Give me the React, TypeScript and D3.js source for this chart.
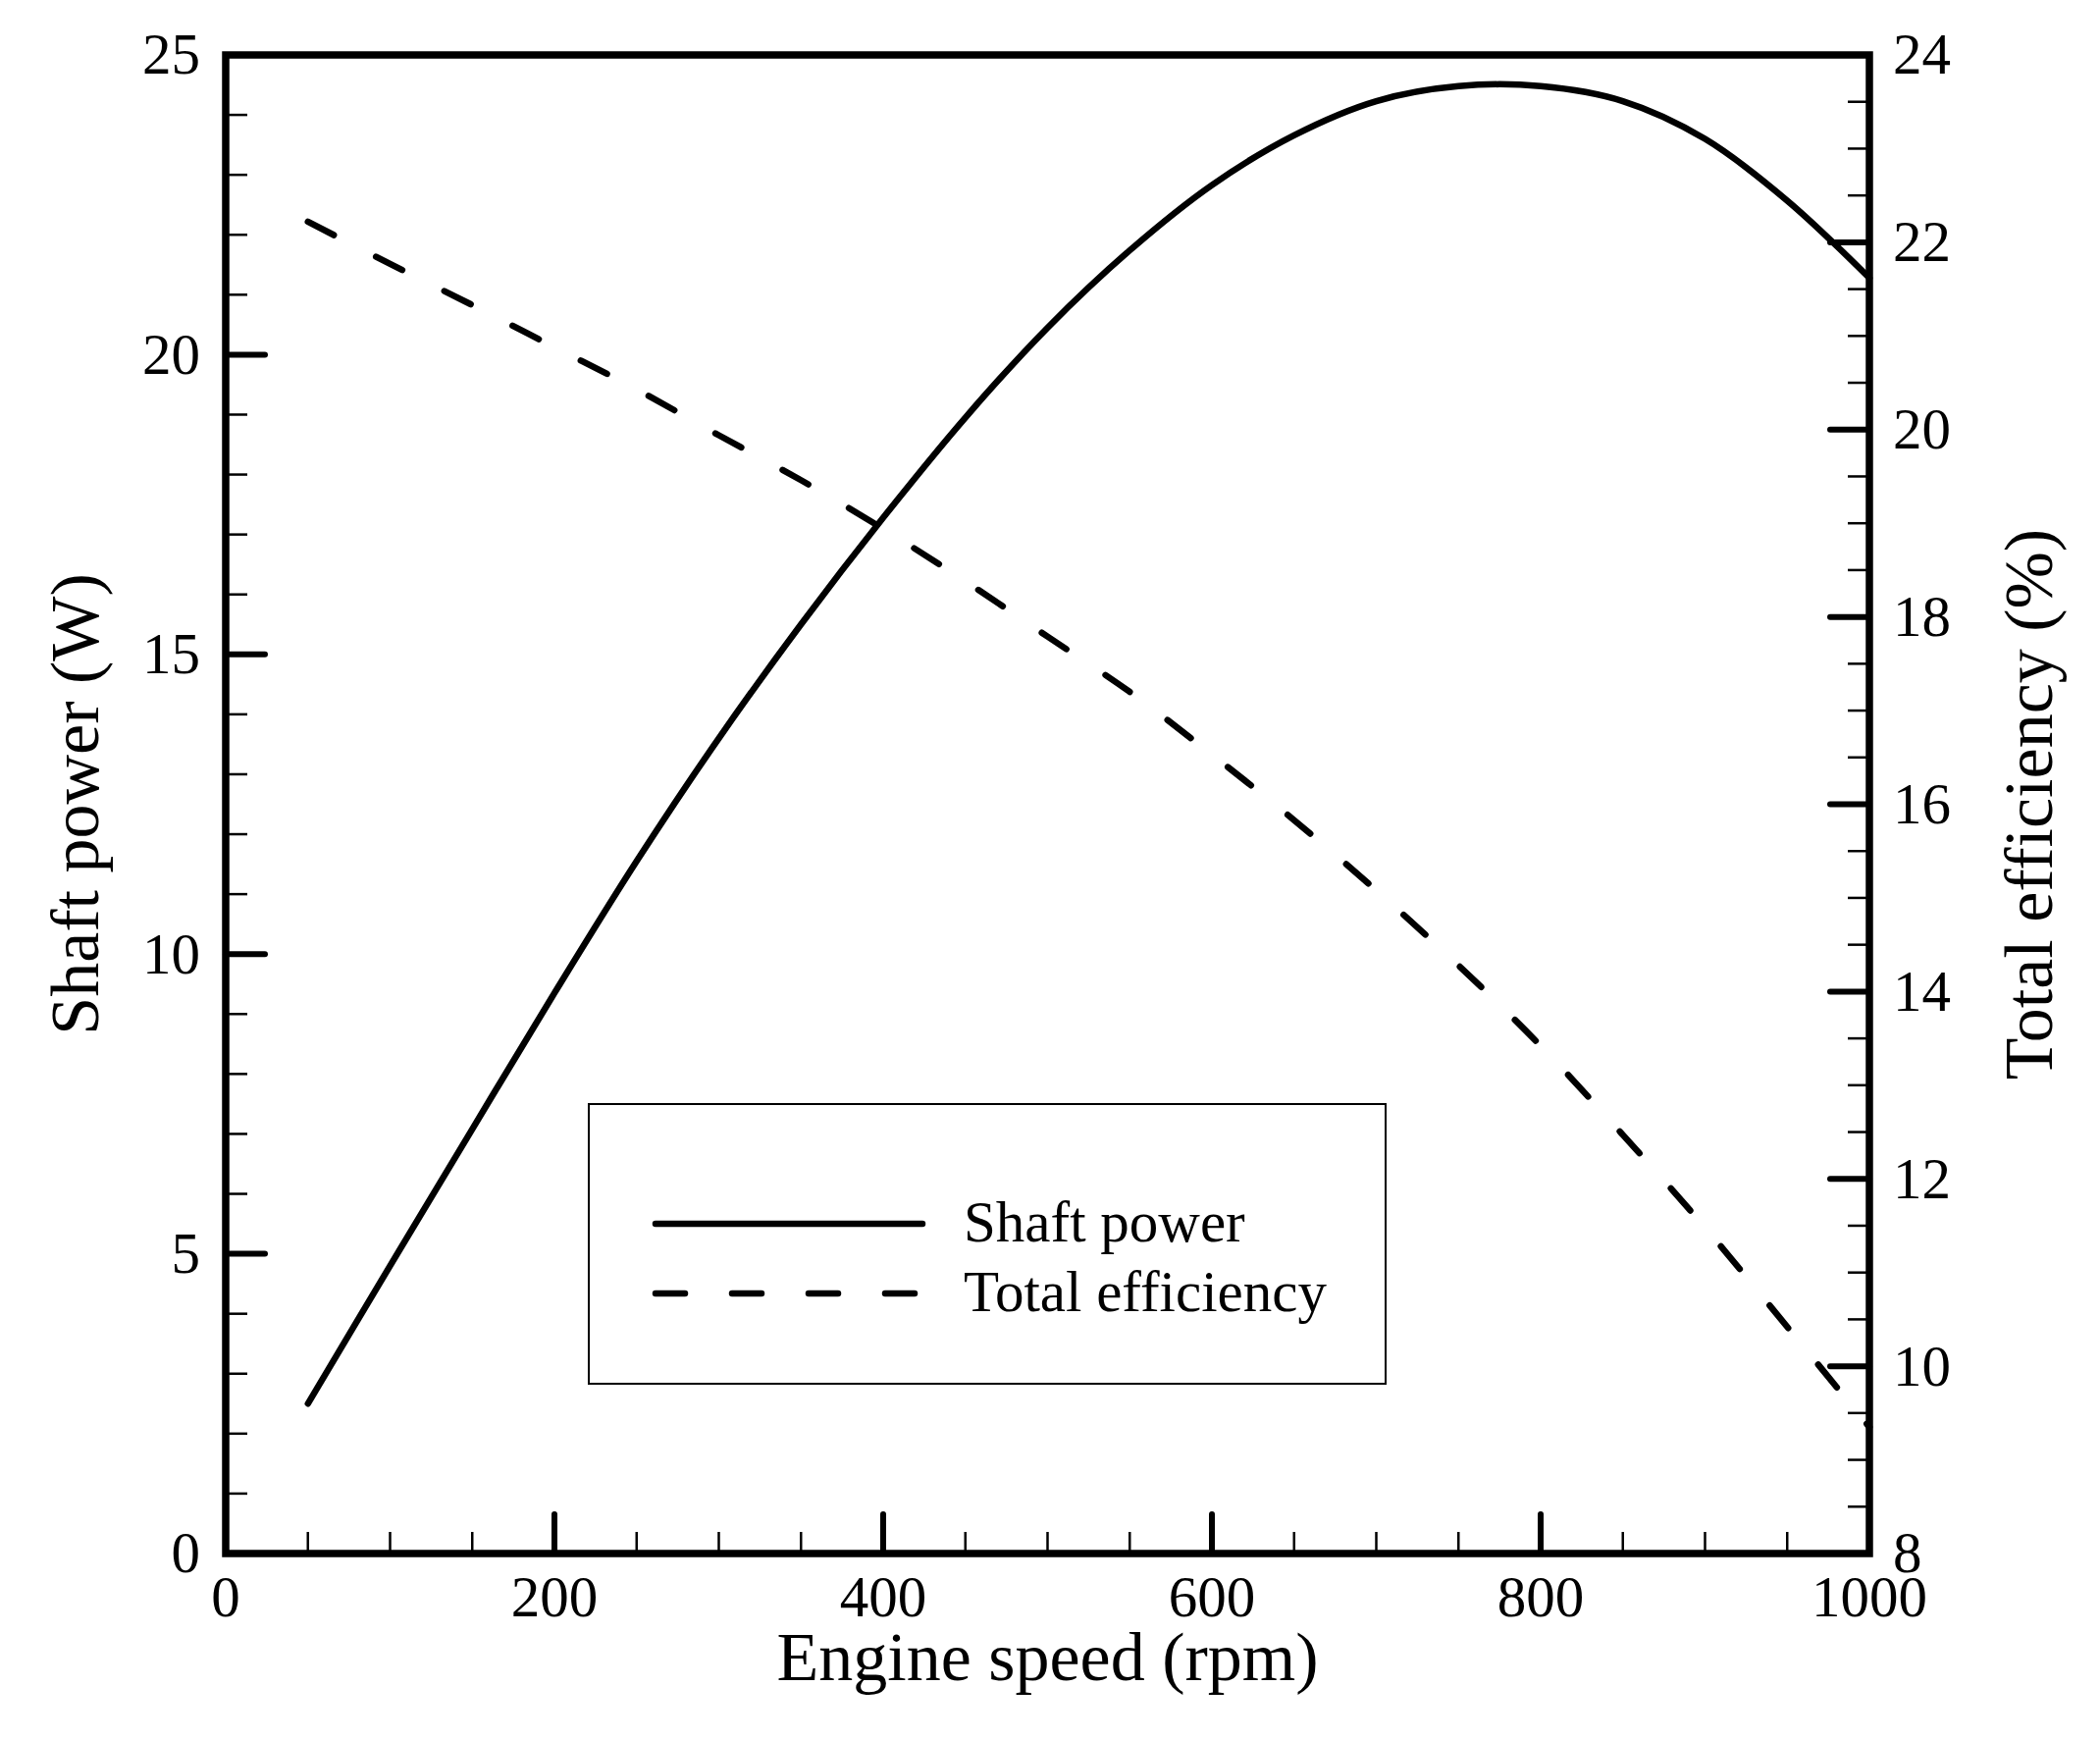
import React from 'react';
import * as d3 from 'd3';

// engine speed (rpm) at which both curves are sampled
const speeds = [50, 100, 150, 200, 250, 300, 350, 400, 450, 500, 550, 600, 650, 700, 750, 800, 850, 900, 950, 1000];
// shaft power (W), left axis
const shaftPower = [2.5, 4.8, 7.08, 9.35, 11.55, 13.6, 15.5, 17.28, 18.95, 20.45, 21.74, 22.83, 23.66, 24.23, 24.48, 24.48, 24.23, 23.6, 22.57, 21.28];
// total efficiency (%), right axis
const totalEfficiency = [22.22, 21.77, 21.33, 20.88, 20.43, 19.94, 19.46, 18.94, 18.38, 17.79, 17.2, 16.53, 15.83, 15.08, 14.28, 13.42, 12.47, 11.48, 10.42, 9.35];

const xMajor = [0, 200, 400, 600, 800, 1000];
const leftMajor = [0, 5, 10, 15, 20, 25];
const rightMajor = [8, 10, 12, 14, 16, 18, 20, 22, 24];

const W = 2140;
const H = 1772;
const FONT = '"Liberation Serif", "Times New Roman", serif';

export default function App() {
  const left = 230, right = 1905, top = 56, bottom = 1583;

  const x = d3.scaleLinear().domain([0, 1000]).range([left, right]);
  const yL = d3.scaleLinear().domain([0, 25]).range([bottom, top]);
  const yR = d3.scaleLinear().domain([8, 24]).range([bottom, top]);

  const powerLine = d3.line<number>()
    .x((_, i) => x(speeds[i]))
    .y((d) => yL(d))
    .curve(d3.curveCatmullRom.alpha(0.5));
  const effLine = d3.line<number>()
    .x((_, i) => x(speeds[i]))
    .y((d) => yR(d))
    .curve(d3.curveCatmullRom.alpha(0.5));

  const majorLen = 40, minorLen = 22;
  const xMinor = d3.range(0, 1001, 50).filter((v) => v % 200 !== 0);
  const leftMinor = d3.range(0, 26, 1).filter((v) => v % 5 !== 0);
  const rightMinor = d3.range(8, 24.01, 0.5).filter((v) => v % 2 !== 0);

  // legend
  const lgX = 600, lgY = 1125, lgW = 812, lgH = 285;
  const lineX0 = 668, lineX1 = 940, textX = 982;
  const row1 = 1247, row2 = 1318;

  return (
    <svg width={W} height={H} style={{ position: 'absolute', left: 0, top: 0, background: '#fff' }}
      fontFamily={FONT}>
      <rect x={0} y={0} width={W} height={H} fill="#fff" />

      {/* minor ticks */}
      {xMinor.map((v) => (
        <line key={'xm' + v} x1={x(v)} x2={x(v)} y1={bottom} y2={bottom - minorLen} stroke="#000" strokeWidth={2.5} />
      ))}
      {leftMinor.map((v) => (
        <line key={'lm' + v} x1={left} x2={left + minorLen} y1={yL(v)} y2={yL(v)} stroke="#000" strokeWidth={2.5} />
      ))}
      {rightMinor.map((v) => (
        <line key={'rm' + v} x1={right} x2={right - minorLen} y1={yR(v)} y2={yR(v)} stroke="#000" strokeWidth={2.5} />
      ))}

      {/* major ticks */}
      {xMajor.map((v) => (
        <line key={'xM' + v} x1={x(v)} x2={x(v)} y1={bottom} y2={bottom - majorLen} stroke="#000" strokeWidth={6} strokeLinecap="round" />
      ))}
      {leftMajor.map((v) => (
        <line key={'lM' + v} x1={left} x2={left + majorLen} y1={yL(v)} y2={yL(v)} stroke="#000" strokeWidth={6} strokeLinecap="round" />
      ))}
      {rightMajor.map((v) => (
        <line key={'rM' + v} x1={right} x2={right - majorLen} y1={yR(v)} y2={yR(v)} stroke="#000" strokeWidth={6} strokeLinecap="round" />
      ))}

      {/* frame */}
      <rect x={left} y={top} width={right - left} height={bottom - top} fill="none" stroke="#000" strokeWidth={7.5} />

      {/* curves */}
      <path d={powerLine(shaftPower) || ''} fill="none" stroke="#000" strokeWidth={6.5} strokeLinecap="round" strokeLinejoin="round" />
      <path d={effLine(totalEfficiency) || ''} fill="none" stroke="#000" strokeWidth={6.5} strokeLinecap="round"
        strokeDasharray="30 48" />

      {/* tick labels */}
      <g fontSize={59} fill="#000">
        {xMajor.map((v) => (
          <text key={'xl' + v} x={x(v)} y={bottom + 64} textAnchor="middle">{v}</text>
        ))}
        {leftMajor.map((v) => (
          <text key={'ll' + v} x={left - 26} y={yL(v)} dy="0.33em" textAnchor="end">{v}</text>
        ))}
        {rightMajor.map((v) => (
          <text key={'rl' + v} x={right + 24} y={yR(v)} dy="0.33em" textAnchor="start">{v}</text>
        ))}
      </g>

      {/* axis titles */}
      <g fontSize={70} fill="#000">
        <text x={(left + right) / 2} y={1712} textAnchor="middle">Engine speed (rpm)</text>
        <text transform={`translate(100, ${(top + bottom) / 2}) rotate(-90)`} textAnchor="middle">Shaft power (W)</text>
        <text transform={`translate(2091, ${(top + bottom) / 2}) rotate(-90)`} textAnchor="middle">Total efficiency (%)</text>
      </g>

      {/* legend */}
      <rect x={lgX} y={lgY} width={lgW} height={lgH} fill="#fff" stroke="#000" strokeWidth={2} />
      <line x1={lineX0} x2={lineX1} y1={row1} y2={row1} stroke="#000" strokeWidth={6.5} strokeLinecap="round" />
      <line x1={lineX0} x2={lineX1} y1={row2} y2={row2} stroke="#000" strokeWidth={6.5} strokeLinecap="round" strokeDasharray="30 48" />
      <g fontSize={59} fill="#000">
        <text x={textX} y={row1} dy="0.3em">Shaft power</text>
        <text x={textX} y={row2} dy="0.3em">Total efficiency</text>
      </g>
    </svg>
  );
}
